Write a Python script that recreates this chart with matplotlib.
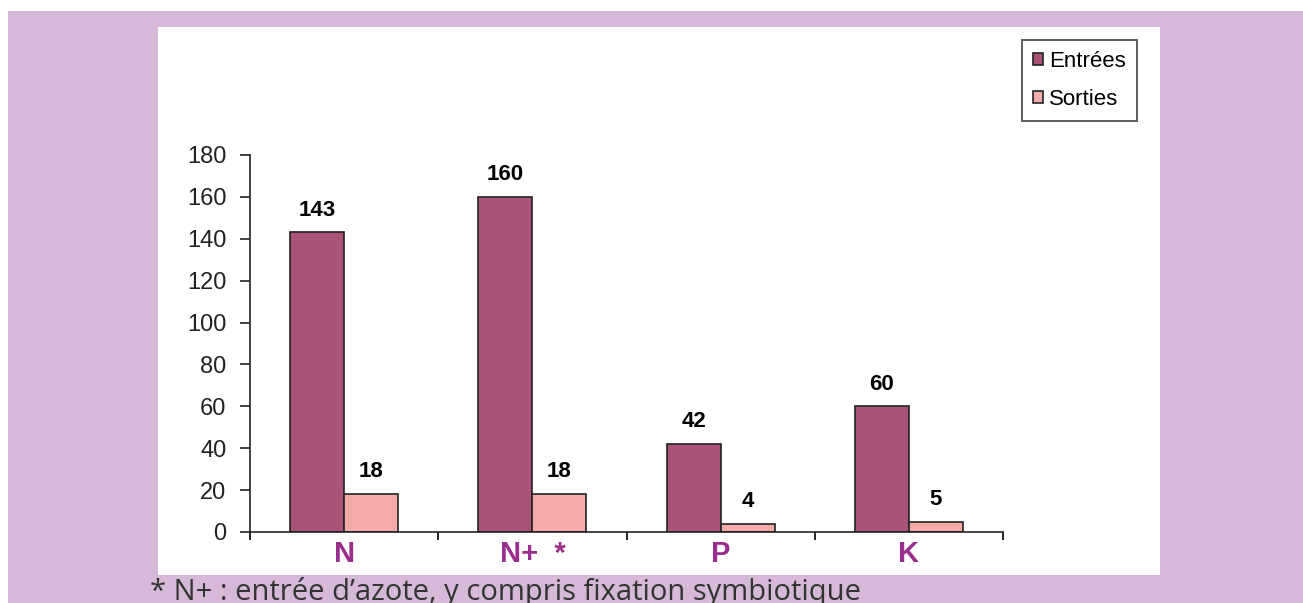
import numpy as np
import matplotlib.pyplot as plt
from matplotlib.patches import Rectangle

# données
categories = ['N', 'N+  *', 'P', 'K']
entrees = [143, 160, 42, 60]
sorties = [18, 18, 4, 5]
y_ticks = [0, 20, 40, 60, 80, 100, 120, 140, 160, 180]

col_entrees = '#A85377'
col_sorties = '#F5A9A9'
col_purple_bg = '#D6B9D8'
col_label = '#9A2E8C'

plt.rcParams['font.family'] = ['Liberation Sans', 'DejaVu Sans']

fig = plt.figure(figsize=(13.03, 6.03), dpi=100)
W, H = 1303, 603

# fond violet + panneau blanc
fig.patches.append(Rectangle((8 / W, 0), 1 - 8 / W, 1 - 11 / H, transform=fig.transFigure,
                             facecolor=col_purple_bg, edgecolor='none', zorder=-2))
fig.patches.append(Rectangle((158 / W, 28 / H), 1002 / W, 548 / H, transform=fig.transFigure,
                             facecolor='white', edgecolor='none', zorder=-1))

ax = fig.add_axes([250 / W, 71 / H, 753 / W, 377 / H])
ax.patch.set_alpha(0)

x = np.arange(len(categories))
w = 0.287
b1 = ax.bar(x - w / 2, entrees, w, color=col_entrees, edgecolor='#222222', linewidth=1.2, label='Entrées')
b2 = ax.bar(x + w / 2, sorties, w, color=col_sorties, edgecolor='#222222', linewidth=1.2, label='Sorties')

for bars, vals in [(b1, entrees), (b2, sorties)]:
    for r, v in zip(bars, vals):
        ax.annotate(str(v), (r.get_x() + r.get_width() / 2, v), xytext=(0, 8.5),
                    textcoords='offset points', ha='center', va='bottom',
                    fontsize=16, fontweight='bold')

ax.set_xlim(-0.5, len(categories) - 0.5)
ax.set_ylim(0, 180)
ax.set_yticks(y_ticks)
ax.tick_params(axis='y', labelsize=17, length=7, width=1.2, pad=10, colors='#222222')
ax.set_xticks(x)
ax.set_xticklabels(categories, fontsize=21, fontweight='bold', color=col_label)
ax.tick_params(axis='x', length=0, pad=6)
ax.set_xticks(np.arange(-0.5, len(categories)), minor=True)
ax.tick_params(axis='x', which='minor', length=6, width=1.2)
for s in ['top', 'right']:
    ax.spines[s].set_visible(False)
for s in ['left', 'bottom']:
    ax.spines[s].set_linewidth(1.2)
    ax.spines[s].set_color('#222222')

leg = fig.legend(loc='upper left', bbox_to_anchor=(1022 / W, 1 - 40 / H), fontsize=16,
                 frameon=True, fancybox=False, edgecolor='#333333', handlelength=0.45,
                 handleheight=0.45, handletextpad=0.25, labelspacing=0.75, borderpad=0.5,
                 borderaxespad=0)
leg.get_frame().set_linewidth(1.4)

fig.text(150 / W, 1 - 577 / H, "* N+ : entrée d\u2019azote, y compris fixation symbiotique",
         fontsize=21, color='#333333', family=['Open Sans', 'DejaVu Sans'], va='top')

fig.savefig('out.png', dpi=100)
